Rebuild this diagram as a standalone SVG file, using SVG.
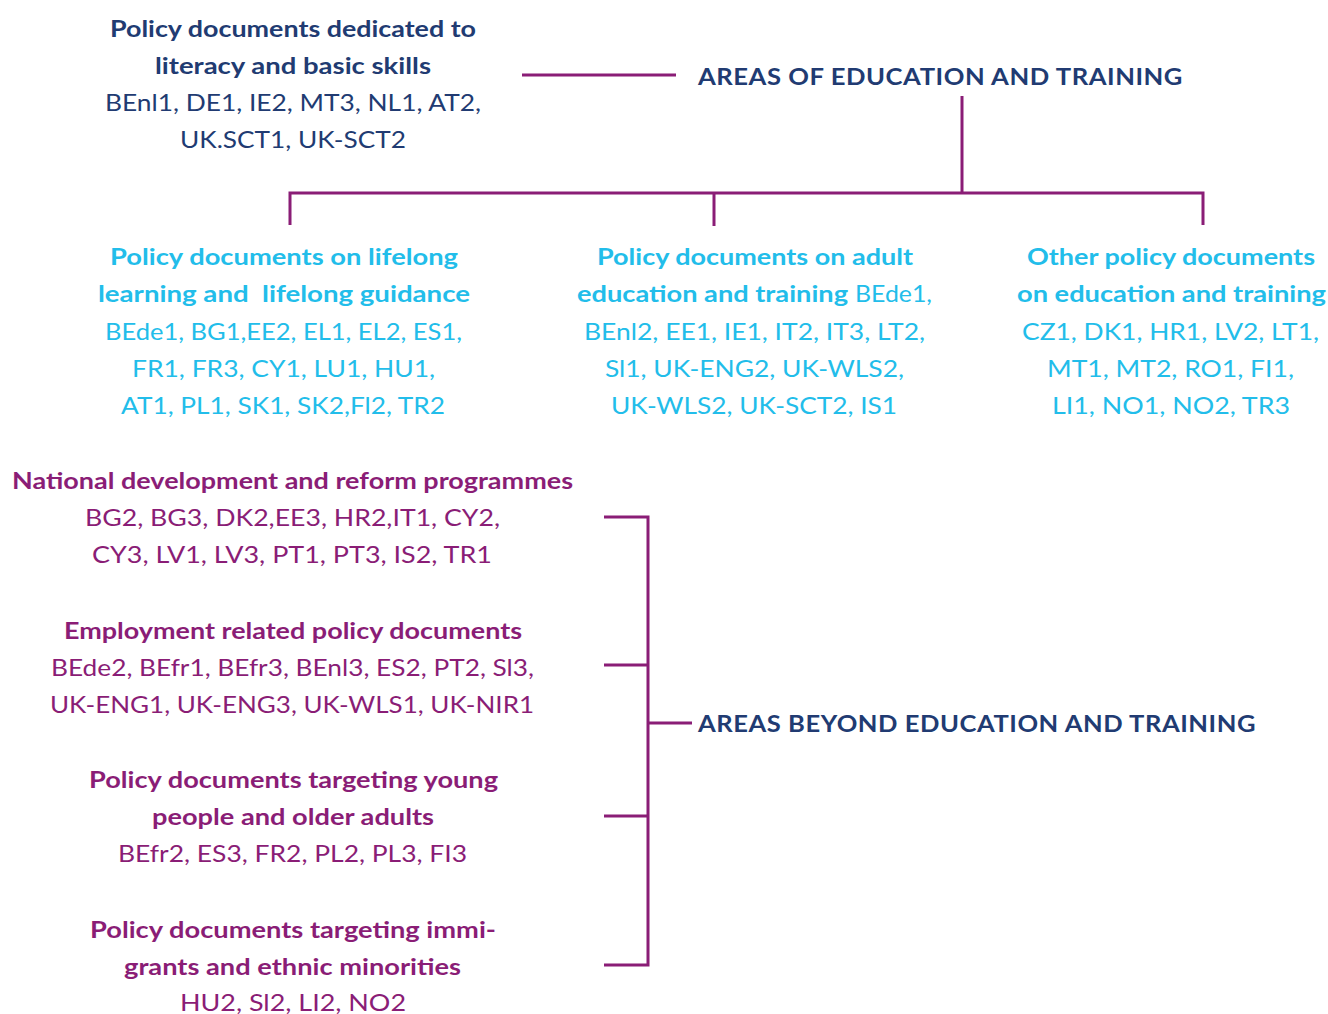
<svg xmlns="http://www.w3.org/2000/svg" width="1328" height="1014" viewBox="0 0 1328 1014">
<style>
text{font-family:Lato,"Open Sans","Liberation Sans",sans-serif;font-size:23.5px}
.b{font-weight:bold}
.nv{fill:#213b72}
.cy{fill:#22bdea}
.pu{fill:#8a1d76}
.hd{font-weight:bold;fill:#213b72;letter-spacing:0.5px}
.ln{stroke:#8a1d76;stroke-width:3;fill:none}
</style>
<rect width="1328" height="1014" fill="#ffffff"/>
<g id="connectors">
<line class="ln" x1="522" y1="75" x2="676" y2="75"/>
<line class="ln" x1="962" y1="96" x2="962" y2="193"/>
<polyline class="ln" points="290,225 290,193 1203,193 1203,225"/>
<line class="ln" x1="714" y1="193" x2="714" y2="226"/>
<polyline class="ln" points="604,517 648,517 648,965 604,965"/>
<line class="ln" x1="604" y1="665" x2="648" y2="665"/>
<line class="ln" x1="604" y1="816" x2="648" y2="816"/>
<line class="ln" x1="648" y1="723" x2="692" y2="723"/>
</g>
<g id="heading-edu">
<text class="hd" x="698" y="84.5" textLength="485" lengthAdjust="spacingAndGlyphs">AREAS OF EDUCATION AND TRAINING</text>
</g>
<g id="heading-beyond">
<text class="hd" x="698" y="731.5" textLength="558" lengthAdjust="spacingAndGlyphs">AREAS BEYOND EDUCATION AND TRAINING</text>
</g>
<g id="node-literacy" class="nv">
<text class="b nv" x="110" y="37" textLength="366" lengthAdjust="spacingAndGlyphs">Policy documents dedicated to</text>
<text class="b nv" x="155" y="74" textLength="276" lengthAdjust="spacingAndGlyphs">literacy and basic skills</text>
<text class="nv" x="105" y="111" textLength="376" lengthAdjust="spacingAndGlyphs">BEnl1, DE1, IE2, MT3, NL1, AT2,</text>
<text class="nv" x="180" y="148" textLength="226" lengthAdjust="spacingAndGlyphs">UK.SCT1, UK-SCT2</text>
</g>
<g id="node-lifelong">
<text class="b cy" x="110" y="264.5" textLength="348" lengthAdjust="spacingAndGlyphs">Policy documents on lifelong</text>
<text class="b cy" x="98" y="302" textLength="372" lengthAdjust="spacingAndGlyphs">learning and&#160; lifelong guidance</text>
<text class="cy" x="105" y="339.5" textLength="357" lengthAdjust="spacingAndGlyphs">BEde1, BG1,EE2, EL1, EL2, ES1,</text>
<text class="cy" x="132" y="376.5" textLength="303" lengthAdjust="spacingAndGlyphs">FR1, FR3, CY1, LU1, HU1,</text>
<text class="cy" x="121" y="414" textLength="324" lengthAdjust="spacingAndGlyphs">AT1, PL1, SK1, SK2,Fl2, TR2</text>
</g>
<g id="node-adult">
<text class="b cy" x="597" y="264.5" textLength="316" lengthAdjust="spacingAndGlyphs">Policy documents on adult</text>
<text class="b cy" x="577" y="302" textLength="271" lengthAdjust="spacingAndGlyphs">education and training</text>
<text class="cy" x="855" y="302" textLength="77" lengthAdjust="spacingAndGlyphs">BEde1,</text>
<text class="cy" x="584" y="339.5" textLength="341" lengthAdjust="spacingAndGlyphs">BEnl2, EE1, IE1, IT2, IT3, LT2,</text>
<text class="cy" x="605" y="376.5" textLength="299" lengthAdjust="spacingAndGlyphs">Sl1, UK-ENG2, UK-WLS2,</text>
<text class="cy" x="611" y="414" textLength="286" lengthAdjust="spacingAndGlyphs">UK-WLS2, UK-SCT2, IS1</text>
</g>
<g id="node-other">
<text class="b cy" x="1027" y="264.5" textLength="288" lengthAdjust="spacingAndGlyphs">Other policy documents</text>
<text class="b cy" x="1017" y="302" textLength="309" lengthAdjust="spacingAndGlyphs">on education and training</text>
<text class="cy" x="1022" y="339.5" textLength="297" lengthAdjust="spacingAndGlyphs">CZ1, DK1, HR1, LV2, LT1,</text>
<text class="cy" x="1047" y="376.5" textLength="247" lengthAdjust="spacingAndGlyphs">MT1, MT2, RO1, FI1,</text>
<text class="cy" x="1052" y="414" textLength="238" lengthAdjust="spacingAndGlyphs">LI1, NO1, NO2, TR3</text>
</g>
<g id="node-national">
<text class="b pu" x="12" y="488.5" textLength="561" lengthAdjust="spacingAndGlyphs">National development and reform programmes</text>
<text class="pu" x="85" y="526" textLength="415" lengthAdjust="spacingAndGlyphs">BG2, BG3, DK2,EE3, HR2,IT1, CY2,</text>
<text class="pu" x="92" y="563" textLength="400" lengthAdjust="spacingAndGlyphs">CY3, LV1, LV3, PT1, PT3, IS2, TR1</text>
</g>
<g id="node-employment">
<text class="b pu" x="64" y="638.5" textLength="458" lengthAdjust="spacingAndGlyphs">Employment related policy documents</text>
<text class="pu" x="51" y="675.5" textLength="483" lengthAdjust="spacingAndGlyphs">BEde2, BEfr1, BEfr3, BEnl3, ES2, PT2, Sl3,</text>
<text class="pu" x="50" y="712.5" textLength="484" lengthAdjust="spacingAndGlyphs">UK-ENG1, UK-ENG3, UK-WLS1, UK-NIR1</text>
</g>
<g id="node-young">
<text class="b pu" x="89" y="787.5" textLength="409" lengthAdjust="spacingAndGlyphs">Policy documents targeting young</text>
<text class="b pu" x="152" y="825" textLength="282" lengthAdjust="spacingAndGlyphs">people and older adults</text>
<text class="pu" x="118" y="862" textLength="349" lengthAdjust="spacingAndGlyphs">BEfr2, ES3, FR2, PL2, PL3, FI3</text>
</g>
<g id="node-immigrants">
<text class="b pu" x="90" y="937.5" textLength="406" lengthAdjust="spacingAndGlyphs">Policy documents targeting immi-</text>
<text class="b pu" x="124" y="974.5" textLength="337" lengthAdjust="spacingAndGlyphs">grants and ethnic minorities</text>
<text class="pu" x="180" y="1011" textLength="226" lengthAdjust="spacingAndGlyphs">HU2, Sl2, LI2, NO2</text>
</g>
</svg>
